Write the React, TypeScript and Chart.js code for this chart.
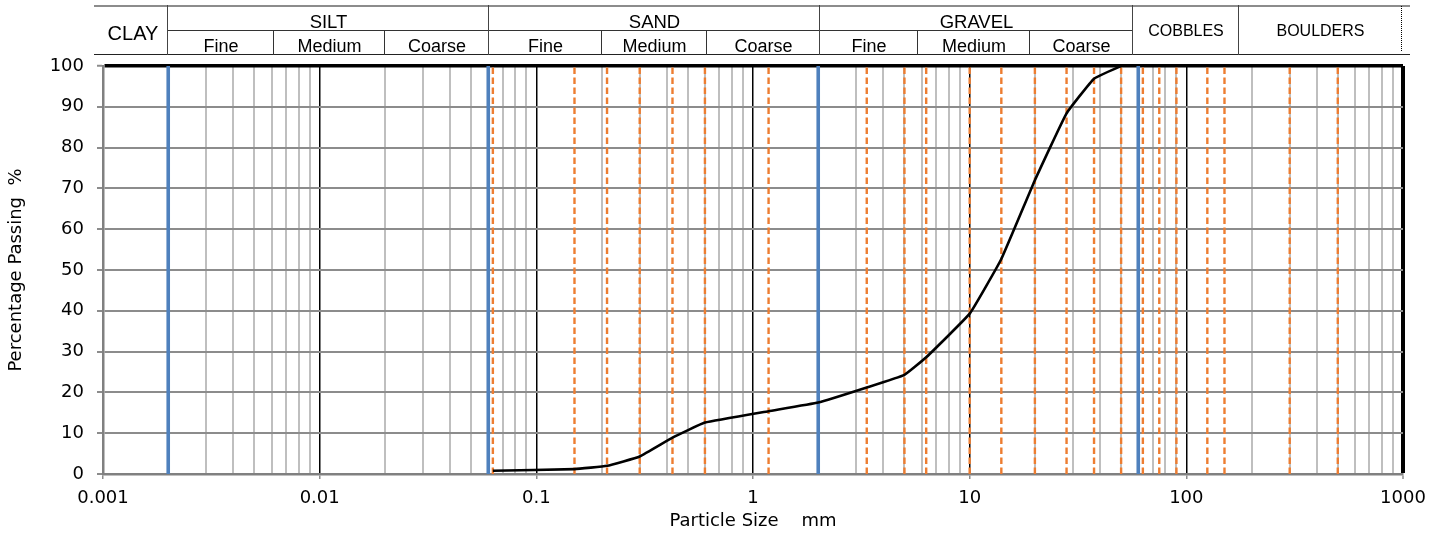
import React, { useEffect, useRef } from 'react';
import { Chart, registerables } from 'chart.js';

Chart.register(...registerables);

// ---- data ----
const particleSizes = [0.063, 0.15, 0.212, 0.3, 0.425, 0.6, 1.18, 2, 3.35, 5, 6.3, 10, 14, 20, 28, 37.5, 50];
const percentPassing = [0.8, 1.2, 2.0, 4.3, 8.9, 12.6, 15.4, 17.5, 21.2, 24.3, 28.6, 39.3, 52.7, 72.0, 88.4, 96.9, 100];
const boundarySizes = [0.002, 0.06, 2, 60];
const sieveSizes = [0.063, 0.15, 0.212, 0.3, 0.425, 0.6, 1.18, 3.35, 5, 6.3, 10, 14, 20, 28, 37.5, 50, 63, 75, 90, 125, 150, 300, 500];
const xTickLabels = ['0.001', '0.01', '0.1', '1', '10', '100', '1000'];
const xMin = 0.001;
const xMax = 1000;
const yMin = 0;
const yMax = 100;
const yStep = 10;

// header table text
const mainClasses = ['SILT', 'SAND', 'GRAVEL'];
const subClasses = ['Fine', 'Medium', 'Coarse'];

// ---- layout of header table (pixels) ----
const H_TOP = 5;
const H_MID = 29.5;
const H_BOT = 53.5;
const H_LEFT = 94;
const H_RIGHT = 1410;
const mainEdges = [168, 489, 820, 1133];
const subEdges = [
  [168, 274, 385, 489],
  [489, 602, 707, 820],
  [820, 918, 1030, 1133],
];
const cobblesEdges = [1133, 1239];
const bouldersEdges = [1239, 1402];

const AXIS_FONT = 'DejaVu Sans';
const HEAD_FONT = 'Liberation Sans, Arial, sans-serif';

function isDecade(v: number) {
  const l = Math.log10(v);
  return Math.abs(l - Math.round(l)) < 1e-6;
}

function buildLogTicks() {
  const out: number[] = [];
  const e0 = Math.round(Math.log10(xMin));
  const e1 = Math.round(Math.log10(xMax));
  for (let e = e0; e < e1; e++) {
    for (let m = 1; m <= 9; m++) out.push(Number((m * Math.pow(10, e)).toPrecision(6)));
  }
  out.push(xMax);
  return out;
}

function Txt(props: { text: string; cx: number; cy: number; w: number; size: number }) {
  const L = Math.round(props.size * 1.4);
  return (
    <div
      style={{
        position: 'absolute',
        left: props.cx - props.w / 2,
        width: props.w,
        top: props.cy - L / 2,
        height: L,
        lineHeight: L + 'px',
        fontSize: props.size,
        fontFamily: HEAD_FONT,
        textAlign: 'center',
        color: '#000',
        whiteSpace: 'nowrap',
      }}
    >
      {props.text}
    </div>
  );
}

function HLine(props: { x1: number; x2: number; y: number; color: string; t?: number }) {
  return (
    <div
      style={{
        position: 'absolute',
        left: props.x1,
        width: props.x2 - props.x1,
        top: props.y,
        height: props.t || 1.5,
        background: props.color,
      }}
    />
  );
}

function VLine(props: { x: number; y1: number; y2: number; color: string; dotted?: boolean }) {
  return (
    <div
      style={{
        position: 'absolute',
        left: props.x - 0.75,
        top: props.y1,
        height: props.y2 - props.y1,
        width: 0,
        borderLeft: props.dotted ? '1px dotted #000' : '1.5px solid ' + props.color,
      }}
    />
  );
}

export default function App() {
  const canvasRef = useRef<HTMLCanvasElement | null>(null);

  useEffect(() => {
    document.body.style.margin = '0';
    const canvas = canvasRef.current;
    if (!canvas) return;
    const tickValues = buildLogTicks();
    const yTickValues: number[] = [];
    for (let v = yMin; v <= yMax; v += yStep) yTickValues.push(v);

    const datasets: any[] = [
      {
        label: 'Grading',
        data: particleSizes.map((x, i) => ({ x, y: percentPassing[i] })),
        borderColor: '#000000',
        borderWidth: 2.6,
        pointRadius: 0,
        tension: 0.1,
        fill: false,
      },
      ...sieveSizes.map((s) => ({
        label: 'Sieve ' + s,
        data: [
          { x: s, y: yMin },
          { x: s, y: yMax },
        ],
        borderColor: '#ED7D31',
        borderWidth: 2.4,
        borderDash: [6.5, 3.5],
        pointRadius: 0,
        fill: false,
      })),
      ...boundarySizes.map((s) => ({
        label: 'Boundary ' + s,
        data: [
          { x: s, y: yMin },
          { x: s, y: yMax },
        ],
        borderColor: '#4F81BD',
        borderWidth: 3.6,
        pointRadius: 0,
        fill: false,
      })),
    ];

    const chart = new Chart(canvas, {
      type: 'line',
      data: { datasets },
      options: {
        animation: false,
        responsive: true,
        maintainAspectRatio: false,
        layout: { padding: { top: 66, right: 40, left: 0, bottom: 0 } },
        plugins: {
          legend: { display: false },
          tooltip: { enabled: false },
          title: { display: false },
        },
        scales: {
          x: {
            type: 'logarithmic',
            min: xMin,
            max: xMax,
            afterBuildTicks: (scale: any) => {
              scale.ticks = tickValues.map((v) => ({ value: v, major: isDecade(v) }));
            },
            afterFit: (scale: any) => {
              scale.height = 60;
            },
            ticks: {
              autoSkip: false,
              maxRotation: 0,
              minRotation: 0,
              padding: 9,
              color: '#000',
              font: { family: AXIS_FONT, size: 18 },
              callback: (val: any) => {
                const v = Number(val);
                if (!isDecade(v)) return '';
                return xTickLabels[Math.round(Math.log10(v)) - Math.round(Math.log10(xMin))];
              },
            },
            grid: {
              drawOnChartArea: true,
              drawTicks: true,
              tickLength: 5,
              color: (ctx: any) => {
                const v = ctx.tick ? ctx.tick.value : 0;
                if (v === xMin) return 'rgba(0,0,0,0)';
                if (isDecade(v)) return '#000000';
                return '#BFBFBF';
              },
              lineWidth: (ctx: any) => {
                const v = ctx.tick ? ctx.tick.value : 0;
                if (v === xMax) return 4;
                if (isDecade(v)) return 1.5;
                return 2;
              },
              tickColor: (ctx: any) => {
                const v = ctx.tick ? ctx.tick.value : 0;
                return isDecade(v) ? '#8C8C8C' : 'rgba(0,0,0,0)';
              },
              tickWidth: 1.5,
            },
            border: { display: true, color: '#808080', width: 2.5 },
            title: {
              display: true,
              text: 'Particle Size    mm',
              color: '#000',
              font: { family: AXIS_FONT, size: 18 },
              padding: { top: 0, bottom: 2 },
            },
          },
          y: {
            type: 'linear',
            min: yMin,
            max: yMax,
            afterBuildTicks: (scale: any) => {
              scale.ticks = yTickValues.map((v) => ({ value: v }));
            },
            afterFit: (scale: any) => {
              scale.width = 103;
            },
            ticks: {
              stepSize: yStep,
              padding: 13,
              color: '#000',
              font: { family: AXIS_FONT, size: 18 },
            },
            grid: {
              drawTicks: true,
              tickLength: 6,
              color: (ctx: any) => {
                const v = ctx.tick ? ctx.tick.value : 0;
                if (v === yMax) return '#000000';
                return '#8C8C8C';
              },
              lineWidth: (ctx: any) => {
                const v = ctx.tick ? ctx.tick.value : 0;
                if (v === yMax) return 3.5;
                return 2;
              },
              tickColor: '#8C8C8C',
              tickWidth: 2,
            },
            border: { display: true, color: '#808080', width: 2.5 },
            title: {
              display: true,
              text: 'Percentage Passing  %',
              color: '#000',
              font: { family: AXIS_FONT, size: 18 },
              padding: { top: 6, bottom: 0 },
            },
          },
        },
      } as any,
    });
    return () => chart.destroy();
  }, []);

  const headerCy1 = 21.5;
  const headerCy2 = 46;

  return (
    <div style={{ position: 'relative', width: 1443, height: 534, background: '#fff', overflow: 'hidden' }}>
      <canvas ref={canvasRef} style={{ position: 'absolute', left: 0, top: 0, width: 1443, height: 534 }} />
      {/* header table */}
      <HLine x1={H_LEFT} x2={H_RIGHT} y={H_TOP} color="#8C8C8C" t={2} />
      <HLine x1={mainEdges[0]} x2={mainEdges[3]} y={H_MID} color="#333" />
      <HLine x1={H_LEFT} x2={H_RIGHT} y={H_BOT} color="#222" />
      {[...mainEdges, ...cobblesEdges.slice(1)].map((x, i) => (
        <VLine key={'mv' + i} x={x} y1={H_TOP} y2={H_BOT + 1} color="#444" />
      ))}
      {subEdges.map((edges, gi) =>
        edges.slice(1, 3).map((x, i) => <VLine key={'sv' + gi + i} x={x} y1={H_MID} y2={H_BOT + 1} color="#333" />)
      )}
      <VLine x={bouldersEdges[1]} y1={H_TOP + 1} y2={H_BOT - 3} color="#000" dotted />
      <Txt text="CLAY" cx={133} cy={33} w={74} size={20} />
      {mainClasses.map((t, i) => (
        <Txt key={'mc' + i} text={t} cx={(mainEdges[i] + mainEdges[i + 1]) / 2} cy={headerCy1} w={mainEdges[i + 1] - mainEdges[i]} size={18.5} />
      ))}
      {subEdges.map((edges, gi) =>
        subClasses.map((t, i) => (
          <Txt key={'sc' + gi + i} text={t} cx={(edges[i] + edges[i + 1]) / 2} cy={headerCy2} w={edges[i + 1] - edges[i]} size={18} />
        ))
      )}
      <Txt text="COBBLES" cx={(cobblesEdges[0] + cobblesEdges[1]) / 2} cy={31} w={106} size={16} />
      <Txt text="BOULDERS" cx={(bouldersEdges[0] + bouldersEdges[1]) / 2} cy={31} w={163} size={16} />
    </div>
  );
}
